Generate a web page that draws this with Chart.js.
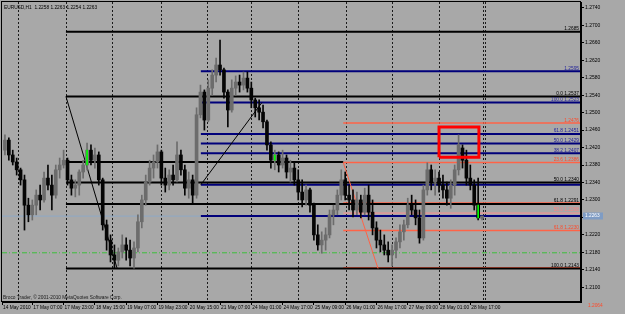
<!DOCTYPE html>
<html>
<head>
<meta charset="utf-8">
<script src="https://cdn.jsdelivr.net/npm/chart.js@4.4.0/dist/chart.umd.min.js"></script>
<style>
  html, body { margin: 0; padding: 0; background: #a8a8a8; }
</style>
</head>
<body>
<canvas id="chart" width="625" height="314"></canvas>
<script>
// ===========================
// DATA (EURUSD H1, one bar per 2 hours)
// ===========================

const symbol = 'EURUSD,H1';
const copyright = 'Broco Trader, \u00a9 2001-2010 MetaQuotes Software Corp.';

const opens = [
    1.2414, 1.2437, 1.2403, 1.2387, 1.2369, 1.2346, 1.2288, 1.2266, 1.2288, 1.2311,
    1.2300, 1.2350, 1.2334, 1.2311, 1.2369, 1.2380, 1.2391, 1.2346, 1.2327, 1.2334,
    1.2364, 1.2380, 1.2414, 1.2391, 1.2403, 1.2346, 1.2243, 1.2208, 1.2174, 1.2162,
    1.2181, 1.2197, 1.2185, 1.2167, 1.2190, 1.2250, 1.2300, 1.2341, 1.2373, 1.2387,
    1.2410, 1.2350, 1.2334, 1.2357, 1.2346, 1.2403, 1.2369, 1.2327, 1.2346, 1.2311,
    1.2495, 1.2547, 1.2483, 1.2556, 1.2586, 1.2609, 1.2598, 1.2547, 1.2506, 1.2556,
    1.2570, 1.2563, 1.2579, 1.2556, 1.2529, 1.2511, 1.2501, 1.2479, 1.2426, 1.2391,
    1.2403, 1.2380, 1.2396, 1.2364, 1.2373, 1.2346, 1.2318, 1.2300, 1.2323, 1.2288,
    1.2220, 1.2197, 1.2208, 1.2220, 1.2266, 1.2277, 1.2311, 1.2346, 1.2311, 1.2300,
    1.2277, 1.2300, 1.2272, 1.2311, 1.2272, 1.2236, 1.2208, 1.2197, 1.2185, 1.2174,
    1.2185, 1.2204, 1.2227, 1.2243, 1.2288, 1.2277, 1.2259, 1.2213, 1.2323, 1.2369,
    1.2341, 1.2350, 1.2334, 1.2323, 1.2304, 1.2334, 1.2369, 1.2419, 1.2391, 1.2350,
    1.2334, 1.2288, 1.2258
];

const highs = [
    1.2449, 1.2442, 1.2414, 1.2396, 1.2373, 1.2357, 1.2304, 1.2300, 1.2323, 1.2334,
    1.2364, 1.2380, 1.2357, 1.2380, 1.2396, 1.2414, 1.2396, 1.2357, 1.2346, 1.2369,
    1.2391, 1.2430, 1.2426, 1.2419, 1.2410, 1.2350, 1.2254, 1.2220, 1.2197, 1.2190,
    1.2220, 1.2213, 1.2208, 1.2204, 1.2266, 1.2311, 1.2357, 1.2391, 1.2403, 1.2426,
    1.2414, 1.2373, 1.2369, 1.2380, 1.2433, 1.2414, 1.2380, 1.2364, 1.2357, 1.2511,
    1.2563, 1.2552, 1.2575, 1.2598, 1.2625, 1.2666, 1.2602, 1.2552, 1.2575, 1.2584,
    1.2586, 1.2593, 1.2593, 1.2570, 1.2533, 1.2529, 1.2517, 1.2483, 1.2433, 1.2414,
    1.2410, 1.2414, 1.2403, 1.2391, 1.2387, 1.2369, 1.2346, 1.2334, 1.2327, 1.2293,
    1.2243, 1.2227, 1.2236, 1.2277, 1.2288, 1.2323, 1.2369, 1.2364, 1.2334, 1.2323,
    1.2318, 1.2311, 1.2327, 1.2334, 1.2300, 1.2250, 1.2231, 1.2220, 1.2204, 1.2197,
    1.2213, 1.2243, 1.2254, 1.2304, 1.2311, 1.2300, 1.2277, 1.2334, 1.2385, 1.2380,
    1.2369, 1.2364, 1.2357, 1.2341, 1.2346, 1.2380, 1.2449, 1.2426, 1.2414, 1.2380,
    1.2346, 1.2350, 1.2263
];

const lows = [
    1.2403, 1.2391, 1.2380, 1.2357, 1.2334, 1.2231, 1.2250, 1.2254, 1.2266, 1.2277,
    1.2295, 1.2323, 1.2277, 1.2304, 1.2350, 1.2373, 1.2334, 1.2311, 1.2307, 1.2311,
    1.2350, 1.2369, 1.2380, 1.2373, 1.2334, 1.2231, 1.2185, 1.2158, 1.2144, 1.2149,
    1.2167, 1.2162, 1.2149, 1.2144, 1.2181, 1.2236, 1.2288, 1.2334, 1.2350, 1.2373,
    1.2334, 1.2318, 1.2323, 1.2334, 1.2341, 1.2357, 1.2311, 1.2304, 1.2293, 1.2304,
    1.2488, 1.2460, 1.2479, 1.2540, 1.2570, 1.2586, 1.2533, 1.2467, 1.2501, 1.2540,
    1.2547, 1.2552, 1.2547, 1.2511, 1.2490, 1.2483, 1.2465, 1.2414, 1.2373, 1.2369,
    1.2364, 1.2373, 1.2350, 1.2341, 1.2334, 1.2300, 1.2284, 1.2288, 1.2272, 1.2208,
    1.2185, 1.2178, 1.2185, 1.2213, 1.2243, 1.2266, 1.2300, 1.2300, 1.2277, 1.2261,
    1.2266, 1.2259, 1.2266, 1.2254, 1.2220, 1.2190, 1.2181, 1.2174, 1.2158, 1.2149,
    1.2167, 1.2190, 1.2208, 1.2236, 1.2266, 1.2243, 1.2201, 1.2208, 1.2311, 1.2323,
    1.2311, 1.2318, 1.2304, 1.2288, 1.2281, 1.2311, 1.2357, 1.2373, 1.2334, 1.2323,
    1.2277, 1.2254, 1.2254
];

const closes = [
    1.2437, 1.2403, 1.2387, 1.2369, 1.2346, 1.2288, 1.2266, 1.2288, 1.2311, 1.2300,
    1.2350, 1.2334, 1.2311, 1.2369, 1.2380, 1.2391, 1.2346, 1.2327, 1.2334, 1.2364,
    1.2380, 1.2414, 1.2391, 1.2403, 1.2346, 1.2243, 1.2208, 1.2174, 1.2162, 1.2181,
    1.2197, 1.2185, 1.2167, 1.2190, 1.2250, 1.2300, 1.2341, 1.2373, 1.2387, 1.2410,
    1.2350, 1.2334, 1.2357, 1.2346, 1.2403, 1.2369, 1.2327, 1.2346, 1.2311, 1.2495,
    1.2547, 1.2483, 1.2556, 1.2586, 1.2609, 1.2598, 1.2547, 1.2506, 1.2556, 1.2570,
    1.2563, 1.2579, 1.2556, 1.2529, 1.2511, 1.2501, 1.2479, 1.2426, 1.2391, 1.2403,
    1.2380, 1.2396, 1.2364, 1.2373, 1.2346, 1.2318, 1.2300, 1.2323, 1.2288, 1.2220,
    1.2197, 1.2208, 1.2220, 1.2266, 1.2277, 1.2311, 1.2346, 1.2311, 1.2300, 1.2277,
    1.2300, 1.2272, 1.2311, 1.2272, 1.2236, 1.2208, 1.2197, 1.2185, 1.2174, 1.2185,
    1.2204, 1.2227, 1.2243, 1.2288, 1.2277, 1.2259, 1.2213, 1.2323, 1.2369, 1.2341,
    1.2350, 1.2334, 1.2323, 1.2304, 1.2334, 1.2369, 1.2426, 1.2391, 1.2350, 1.2334,
    1.2288, 1.2259, 1.2263
];

// bars marked with a thin lime stroke in the picture
const greenBars = [21, 69, 121];

// time axis (bar slot -> label)
const timeSlots = [-0.75, 7, 15, 23, 31, 39, 47, 55, 63, 71, 79, 87, 95, 103, 111, 119];
const timeLabels = [
    '14 May 2010', '17 May 07:00', '17 May 23:00', '18 May 15:00', '19 May 07:00',
    '19 May 23:00', '20 May 15:00', '21 May 07:00', '24 May 01:00', '24 May 17:00',
    '25 May 09:00', '26 May 01:00', '26 May 17:00', '27 May 09:00', '28 May 01:00',
    '28 May 17:00'
];
const gridSlots = [3.4, 15.5, 27.5, 39.8, 51.7, 62.9, 74.9, 87.2, 99.0, 111.0, 122.3, 122.8];

// price axis
const priceTicks = [
    1.2100, 1.2140, 1.2180, 1.2220, 1.2260, 1.2300, 1.2340, 1.2380, 1.2420,
    1.2460, 1.2500, 1.2540, 1.2580, 1.2620, 1.2660, 1.2700, 1.2740
];

// horizontal objects (fibo levels, lines)
const X_END = 147.3;
const levelPrices = [1.2685, 1.2595, 1.2537, 1.2523, 1.2476, 1.2451, 1.2429, 1.2407, 1.2387, 1.2386,
                     1.2340, 1.2335, 1.2291, 1.2293, 1.2270, 1.2263, 1.2230, 1.2143, 1.2145];
const levelFrom   = [15.6, 50.1, 15.6, 50.1, 86.5, 50.1, 50.1, 50.1, 15.6, 86.5,
                     15.6, 50.1, 15.6, 86.5, 86.5, 50.1, 86.5, 15.6, 86.5];
const levelTo     = [X_END, X_END, X_END, X_END, X_END, X_END, X_END, X_END, 86.5, X_END,
                     X_END, X_END, X_END, X_END, X_END, X_END, X_END, X_END, X_END];
const levelKinds  = ['black', 'navy', 'black', 'navy', 'red', 'navy', 'navy', 'navy', 'black', 'red',
                     'black', 'navy', 'black', 'red', 'pink', 'navy', 'red', 'black', 'red'];
const levelLabels = ['1.2685', '1.2595', '0.0 1.2537', '100.0 1.2523', '1.2476', '61.8 1.2451',
                     '50.0 1.2429', '38.2 1.2407', '', '23.6 1.2386', '50.0 1.2340', '',
                     '61.8 1.2291', '', '50.0 1.2268', '', '61.8 1.2230', '100.0 1.2143', ''];

const dashLevel = 1.2179;
const offChartLabel = '1.2064';

// trend lines of the fibo tools
const trendX1 = [15.6, 50.1, 86.5];
const trendY1 = [1.2537, 1.2335, 1.2386];
const trendX2 = [28.7, 65.7, 95.4];
const trendY2 = [1.2143, 1.2523, 1.2143];
const trendKinds = ['black', 'black', 'red'];

// red highlight box
const boxX = [111.0, 121.2];
const boxY = [1.2398, 1.2467];

// ===========================
// STYLES
// ===========================

const FONT = '"Liberation Sans", Arial, sans-serif';
const lineColors = { black: '#000000', navy: '#00007a', red: '#ff6347', pink: '#ff8f8f' };
const lineWidths = { black: 2, navy: 2, red: 1.5, pink: 1 };
const textColors = { black: '#000000', navy: '#26269a', red: '#ff4a2a', pink: '#ff8080' };

function barColor(i) {
    return closes[i] >= opens[i] ? '#6c6c6c' : '#050505';
}

const last = closes.length - 1;

// ===========================
// DATASETS
// ===========================

const datasets = [];

// lime marks (thin, on top of their candles)
datasets.push({
    type: 'bar',
    data: greenBars.map(i => ({ x: i, y: [opens[i], closes[i]] })),
    backgroundColor: '#00ff00',
    barThickness: 1,
    grouped: false,
    order: 0
});

datasets.push({
    type: 'bar',
    data: opens.map((o, i) => ({ x: i, y: [o, closes[i]] })),
    backgroundColor: ctx => barColor(ctx.dataIndex),
    barThickness: 3,
    minBarLength: 1,
    grouped: false,
    order: 1
});

datasets.push({
    type: 'bar',
    data: highs.map((h, i) => ({ x: i, y: [lows[i], h] })),
    backgroundColor: ctx => barColor(ctx.dataIndex),
    barThickness: 1,
    grouped: false,
    order: 1
});

levelPrices.forEach((p, i) => {
    datasets.push({
        type: 'line',
        data: [{ x: levelFrom[i], y: p }, { x: levelTo[i], y: p }],
        borderColor: lineColors[levelKinds[i]],
        borderWidth: lineWidths[levelKinds[i]],
        pointRadius: 0,
        order: 3
    });
});

// bid line and green dash-dot level
datasets.push({
    type: 'line',
    data: [{ x: -0.75, y: closes[last] }, { x: X_END, y: closes[last] }],
    borderColor: '#8ea8c6',
    borderWidth: 1,
    pointRadius: 0,
    order: 4
});
datasets.push({
    type: 'line',
    data: [{ x: -0.75, y: dashLevel }, { x: X_END, y: dashLevel }],
    borderColor: '#3cc03c',
    borderWidth: 1,
    borderDash: [5, 2, 1, 2],
    pointRadius: 0,
    order: 4
});

trendX1.forEach((x1, i) => {
    datasets.push({
        type: 'line',
        data: [{ x: x1, y: trendY1[i] }, { x: trendX2[i], y: trendY2[i] }],
        borderColor: lineColors[trendKinds[i]],
        borderWidth: 1,
        pointRadius: 0,
        order: 2
    });
});

datasets.push({
    type: 'line',
    data: [
        { x: boxX[0], y: boxY[0] }, { x: boxX[1], y: boxY[0] },
        { x: boxX[1], y: boxY[1] }, { x: boxX[0], y: boxY[1] },
        { x: boxX[0], y: boxY[0] }
    ],
    borderColor: '#ff0000',
    borderWidth: 3,
    borderJoinStyle: 'miter',
    pointRadius: 0,
    order: -1
});

// ===========================
// DECORATION PLUGIN (terminal look)
// ===========================

const mt4Decor = {
    id: 'mt4Decor',
    beforeDraw(chart) {
        const { ctx, width, height } = chart;
        ctx.save();
        ctx.fillStyle = '#a8a8a8';
        ctx.fillRect(0, 0, width, height);
        ctx.restore();
    },
    beforeDatasetsDraw(chart) {
        const { ctx, chartArea: a, scales: { x } } = chart;
        ctx.save();
        ctx.strokeStyle = '#1a1a1a';
        ctx.lineWidth = 1;
        ctx.setLineDash([2, 2]);
        gridSlots.forEach(v => {
            const px = Math.round(x.getPixelForValue(v)) + 0.5;
            ctx.beginPath();
            ctx.moveTo(px, a.top);
            ctx.lineTo(px, a.bottom);
            ctx.stroke();
        });
        ctx.restore();
    },
    afterDatasetsDraw(chart) {
        const { ctx, chartArea: a, scales: { y } } = chart;
        ctx.save();
        ctx.font = '4.8px ' + FONT;
        ctx.textAlign = 'right';
        ctx.textBaseline = 'bottom';
        levelPrices.forEach((p, i) => {
            if (!levelLabels[i]) return;
            ctx.fillStyle = textColors[levelKinds[i]];
            ctx.fillText(levelLabels[i], a.right - 2, y.getPixelForValue(p) - 0.5);
        });

        // header with last bar OHLC
        ctx.textAlign = 'left';
        ctx.textBaseline = 'top';
        ctx.fillStyle = '#000';
        const ohlc = [opens[last], highs[last], lows[last], closes[last]].map(v => v.toFixed(4)).join(' ');
        ctx.fillText(symbol + '  ' + ohlc, a.left + 2, a.top + 3);

        // copyright
        ctx.textBaseline = 'bottom';
        ctx.fillStyle = '#1a1a1a';
        ctx.fillText(copyright, a.left + 1, a.bottom - 2);

        // frame
        ctx.strokeStyle = '#000';
        ctx.lineWidth = 1;
        ctx.strokeRect(a.left - 0.5, a.top - 0.5, a.right - a.left, a.bottom - a.top);
        ctx.restore();
    },
    afterDraw(chart) {
        const { ctx, chartArea: a, scales: { y } } = chart;
        const py = Math.round(y.getPixelForValue(closes[last]));
        ctx.save();
        ctx.fillStyle = '#7f9cc4';
        ctx.fillRect(a.right + 2, py - 3.5, 20, 7);
        ctx.font = '4.8px ' + FONT;
        ctx.fillStyle = '#ffffff';
        ctx.textAlign = 'left';
        ctx.textBaseline = 'middle';
        ctx.fillText(closes[last].toFixed(4), a.right + 4, py);

        ctx.fillStyle = '#ff4a2a';
        ctx.textBaseline = 'bottom';
        ctx.fillText(offChartLabel, a.right + 7, a.bottom + 6);
        ctx.restore();
    }
};

// ===========================
// CHART
// ===========================

Chart.defaults.font.family = FONT;

new Chart(document.getElementById('chart'), {
    type: 'bar',
    data: { datasets: datasets },
    options: {
        responsive: false,
        animation: false,
        events: [],
        layout: { padding: { left: 2, top: 2, right: 0, bottom: 0 } },
        plugins: {
            legend: { display: false },
            tooltip: { enabled: false }
        },
        scales: {
            x: {
                type: 'linear',
                min: -0.75,
                max: X_END,
                offset: false,
                afterBuildTicks: s => { s.ticks = timeSlots.map(v => ({ value: v })); },
                afterFit: s => { s.height = 12; s.paddingLeft = 0; s.paddingRight = 0; },
                grid: { drawOnChartArea: false, offset: false, tickLength: 3, tickColor: '#000', color: '#000' },
                border: { color: '#000' },
                ticks: {
                    autoSkip: false,
                    maxRotation: 0,
                    minRotation: 0,
                    align: 'start',
                    labelOffset: 1,
                    padding: 0,
                    color: '#000',
                    font: { size: 4.8 },
                    callback: (v, i) => timeLabels[i]
                }
            },
            y: {
                type: 'linear',
                position: 'right',
                min: 1.20663,
                max: 1.27533,
                beginAtZero: false,
                afterBuildTicks: s => { s.ticks = priceTicks.map(v => ({ value: v })); },
                afterFit: s => { s.width = 44; s.paddingTop = 0; s.paddingBottom = 0; },
                grid: { drawOnChartArea: false, tickLength: 3, tickColor: '#000', color: '#000' },
                border: { color: '#000' },
                ticks: {
                    autoSkip: false,
                    padding: 1,
                    color: '#000',
                    font: { size: 5 },
                    callback: v => v.toFixed(4)
                }
            }
        }
    },
    plugins: [mt4Decor]
});
</script>
</body>
</html>
